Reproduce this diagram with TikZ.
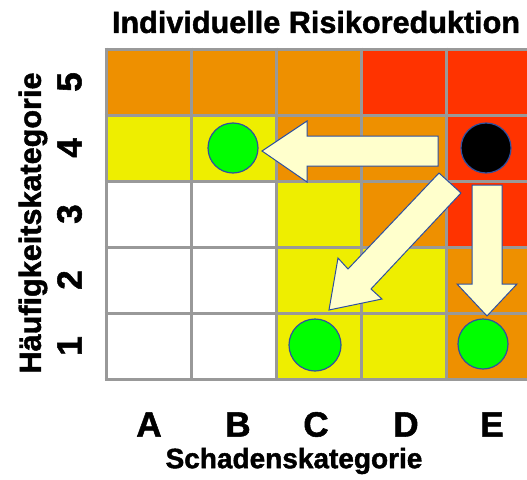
\documentclass[tikz,border=0pt]{standalone}
\usepackage{fontspec}
\setmainfont{Liberation Sans}[BoldFeatures={FakeBold=1.5}]
\definecolor{cor}{RGB}{238,144,0}
\definecolor{cred}{RGB}{255,51,0}
\definecolor{cyel}{RGB}{238,238,0}
\definecolor{cgrid}{RGB}{153,153,153}
\definecolor{cgreen}{RGB}{0,255,0}
\definecolor{cblue}{RGB}{46,80,160}
\definecolor{carrow}{RGB}{255,255,204}
\begin{document}
\begin{tikzpicture}[x=1pt,y=-1pt,
  dot/.style={circle,draw=cblue,line width=1.2pt,minimum size=50pt,inner sep=0pt},
  blockarrow/.style={fill=carrow,draw=cblue,line width=1pt,line join=miter},
  ylab/.style={font=\fontsize{35}{35}\selectfont\bfseries,rotate=90,inner sep=0pt},
  xlab/.style={font=\fontsize{35}{35}\selectfont\bfseries,inner sep=0pt},
  axlab/.style={font=\fontsize{28}{28}\selectfont\bfseries,inner sep=0pt}]
\useasboundingbox (0,0) rectangle (527,479);
% cells: row 5..1 top to bottom
\def\xs{{106,191,276,361,446,531}}
\def\ys{{49,115,181,247,313,379}}
\foreach \r/\cols in {0/{cor,cor,cor,cred,cred},1/{cyel,cyel,cor,cor,cred},2/{white,white,cyel,cor,cred},3/{white,white,cyel,cyel,cor},4/{white,white,cyel,cyel,cor}}{
  \foreach \c [count=\i from 0] in \cols {
    \pgfmathsetmacro{\xa}{\xs[\i]}
    \pgfmathsetmacro{\xb}{\xs[\i+1]}
    \pgfmathsetmacro{\ya}{\ys[\r]}
    \pgfmathsetmacro{\yb}{\ys[\r+1]}
    \fill[\c] (\xa,\ya) rectangle (\xb,\yb);
  }
}
\foreach \x in {106,191,276,361,446,531} \draw[cgrid,line width=3pt] (\x,47.5) -- (\x,380.5);
\foreach \y in {49,115,181,247,313,379} \draw[cgrid,line width=3pt] (104.5,\y) -- (532,\y);
% circles
\node[dot,fill=cgreen] (b4) at (233,148) {};
\node[dot,fill=black] (e4) at (486,148) {};
\node[dot,fill=cgreen,minimum size=52pt] (c1) at (315,345) {};
\node[dot,fill=cgreen] (e1) at (483,344) {};
% arrows
\draw[blockarrow] (438,136) -- (307,136) -- (307,121) -- (262,151) -- (307,182) -- (307,166) -- (438,166) -- cycle;
\draw[blockarrow] (472,185) -- (502,185) -- (502,284) -- (517,284) -- (487,316) -- (457,284) -- (472,284) -- cycle;
\draw[blockarrow] (439,173) -- (348,269) -- (338,258) -- (329,310) -- (382,299) -- (371,289) -- (461,193) -- cycle;
% texts
\node[font=\fontsize{30.6}{30.6}\selectfont\bfseries,inner sep=0pt] (title) at (316,22) {Individuelle Risikoreduktion};
\node[font=\fontsize{30.6}{30.6}\selectfont\bfseries,inner sep=0pt,rotate=90] (ylabel) at (33,223) {Häufigkeitskategorie};
\node[ylab] (r5) at (69.5,82) {5};
\node[ylab] (r4) at (69.5,148) {4};
\node[ylab] (r3) at (69.5,214) {3};
\node[ylab] (r2) at (69.5,280) {2};
\node[ylab] (r1) at (69.5,346) {1};
\node[xlab] (ca) at (149,424.5) {A};
\node[xlab] (cb) at (238,424.5) {B};
\node[xlab] (cc) at (316,424.5) {C};
\node[xlab] (cd) at (406,424.5) {D};
\node[xlab] (ce) at (492,424.5) {E};
\node[axlab] (xlabel) at (294,461) {Schadenskategorie};
\end{tikzpicture}
\end{document}
